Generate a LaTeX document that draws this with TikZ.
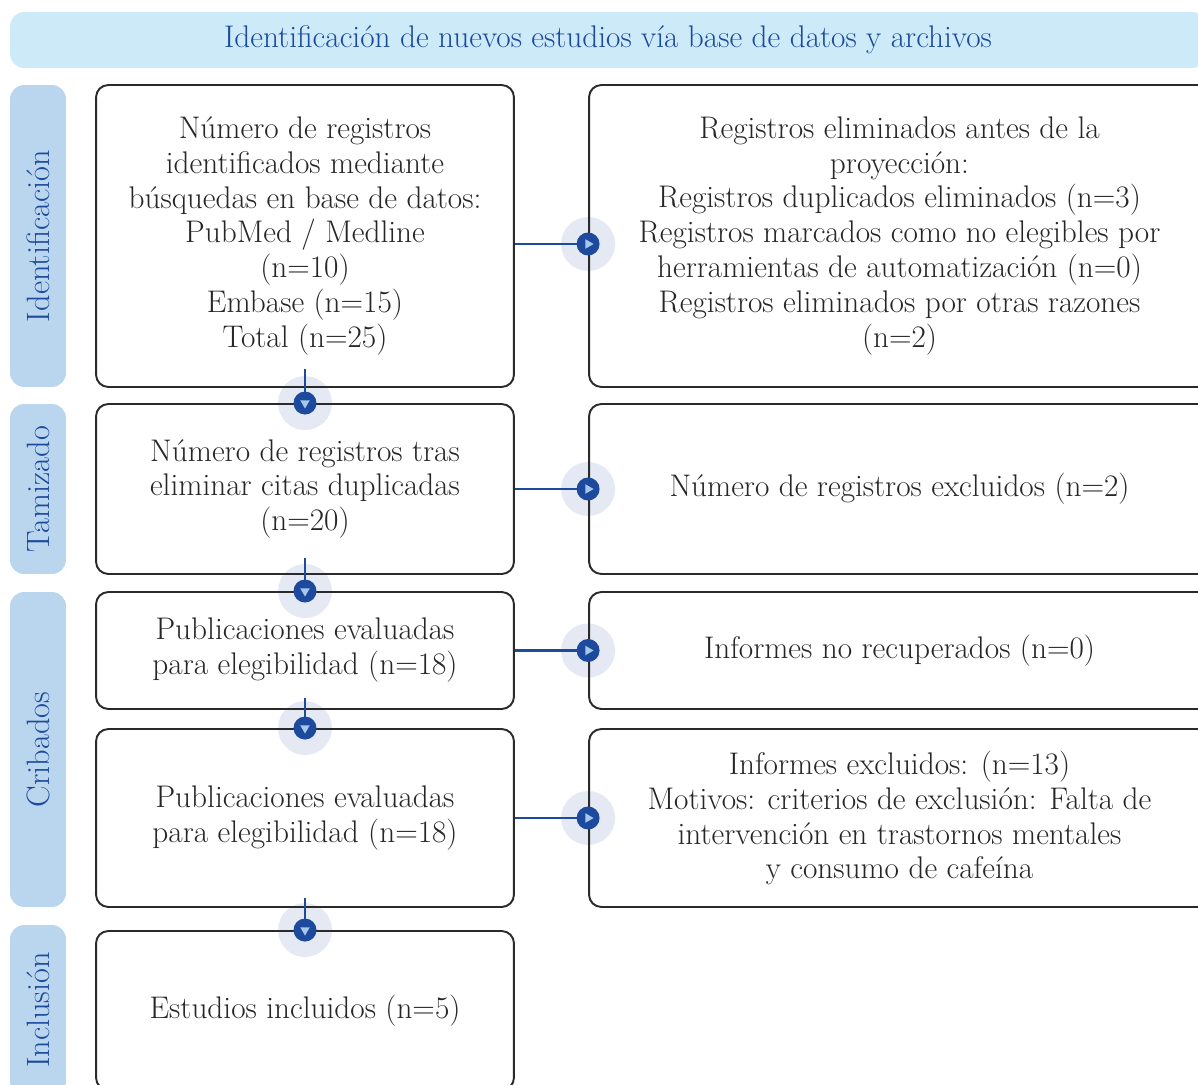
\documentclass[tikz,border=0pt]{standalone}
\usepackage{tikz}
\usepackage{xcolor}
\usetikzlibrary{shapes.geometric, positioning, calc, backgrounds}

\definecolor{azulosc}{HTML}{1D4A9C}
\definecolor{azulcab}{HTML}{CDEAF9}
\definecolor{azulfaja}{HTML}{BAD6EE}
\definecolor{halo}{HTML}{E4E9F4}
\definecolor{trian}{HTML}{A5C8EC}
\definecolor{borde}{HTML}{2A2A2A}

\tikzset{
  caja/.style={draw=borde, line width=1.1pt, rounded corners=7pt, align=center,
    text=black!85, font=\fontsize{17.8}{19.9}\selectfont, inner sep=0pt},
  faja/.style={fill=azulfaja, rounded corners=8pt, minimum height=1.12cm,
    text=azulosc, font=\fontsize{18.4}{20}\selectfont, rotate=90},
  enlace/.style={draw=azulosc, line width=1.4pt},
}

% dot with small triangle: #1 point, #2 rotation
\newcommand{\marcador}[2]{%
  \fill[azulosc] (#1) circle (0.23cm);
  \node[regular polygon, regular polygon sides=3, fill=trian, inner sep=0pt,
    minimum size=0.22cm, rotate=#2] at (#1) {};
}

\begin{document}
\begin{tikzpicture}[x=0.02cm, y=-0.02cm]
\useasboundingbox (0,0) rectangle (1198,1085);
\clip (0,0) rectangle (1198,1085);

% header
\node[fill=azulcab, rounded corners=8pt, minimum width=23.92cm, minimum height=1.12cm,
  text=azulosc, font=\fontsize{17.8}{20}\selectfont] (cabecera) at (608,40)
  {Identificación de nuevos estudios vía base de datos y archivos};

% side bands
\node[faja, minimum width=6.04cm] (fid) at (38,236) {Identificación};
\node[faja, minimum width=3.4cm] (ftam) at (38,489) {Tamizado};
\node[faja, minimum width=6.3cm] (fcri) at (38,749.5) {Cribados};
\node[faja, minimum width=3.4cm] (finc) at (38,1010) {Inclusión};

% left column
\node[caja, minimum width=8.36cm, minimum height=6.04cm] (idbox) at (305,236)
  {Número de registros\\identificados mediante\\búsquedas en base de datos:\\PubMed / Medline\\(n=10)\\Embase (n=15)\\Total (n=25)};
\node[caja, minimum width=8.36cm, minimum height=3.4cm] (tambox) at (305,489)
  {Número de registros tras\\eliminar citas duplicadas\\(n=20)};
\node[caja, minimum width=8.36cm, minimum height=2.34cm] (evalbox) at (305,650.5)
  {Publicaciones evaluadas\\para elegibilidad (n=18)};
\node[caja, minimum width=8.36cm, minimum height=3.56cm] (elegbox) at (305,818)
  {Publicaciones evaluadas\\para elegibilidad (n=18)};
\node[caja, minimum width=8.36cm, minimum height=3.18cm] (inclbox) at (305,1010.5)
  {Estudios incluidos (n=5)};

% right column
\node[caja, minimum width=12.42cm, minimum height=6.04cm] (elimbox) at (899.5,236)
  {Registros eliminados antes de la\\proyección:\\Registros duplicados eliminados (n=3)\\Registros marcados como no elegibles por\\herramientas de automatización (n=0)\\Registros eliminados por otras razones\\(n=2)};
\node[caja, minimum width=12.42cm, minimum height=3.4cm] (exclbox) at (899.5,489)
  {Número de registros excluidos (n=2)};
\node[caja, minimum width=12.42cm, minimum height=2.34cm] (norecbox) at (899.5,650.5)
  {Informes no recuperados (n=0)};
\node[caja, minimum width=12.42cm, minimum height=3.56cm] (motivbox) at (899.5,818)
  {Informes excluidos: (n=13)\\Motivos: criterios de exclusión: Falta de\\intervención en trastornos mentales\\y consumo de cafeína};

\coordinate (salida) at ([yshift=-0.16cm]idbox.east);

% halos behind the boxes
\begin{scope}[on background layer]
  \foreach \p in {tambox.north, evalbox.north, elegbox.north, inclbox.north}
    \fill[halo] (\p) circle (0.54cm);
  \fill[halo] (salida -| elimbox.west) circle (0.54cm);
  \fill[halo] (tambox.east -| exclbox.west) circle (0.54cm);
  \fill[halo] (evalbox.east -| norecbox.west) circle (0.54cm);
  \fill[halo] (elegbox.east -| motivbox.west) circle (0.54cm);
\end{scope}

% horizontal links
\draw[enlace] (salida) -- (salida -| elimbox.west);
\draw[enlace] (tambox.east) -- (tambox.east -| exclbox.west);
\draw[enlace] (evalbox.east) -- (evalbox.east -| norecbox.west);
\draw[enlace] (elegbox.east) -- (elegbox.east -| motivbox.west);
\marcador{salida -| elimbox.west}{-90}
\marcador{tambox.east -| exclbox.west}{-90}
\marcador{evalbox.east -| norecbox.west}{-90}
\marcador{elegbox.east -| motivbox.west}{-90}

% vertical links
\draw[enlace] ([yshift=0.38cm]idbox.south) -- (tambox.north);
\draw[enlace] ([yshift=0.34cm]tambox.south) -- (evalbox.north);
\draw[enlace] ([yshift=0.24cm]evalbox.south) -- (elegbox.north);
\draw[enlace] ([yshift=0.2cm]elegbox.south) -- (inclbox.north);
\marcador{tambox.north}{180}
\marcador{evalbox.north}{180}
\marcador{elegbox.north}{180}
\marcador{inclbox.north}{180}
\end{tikzpicture}
\end{document}
